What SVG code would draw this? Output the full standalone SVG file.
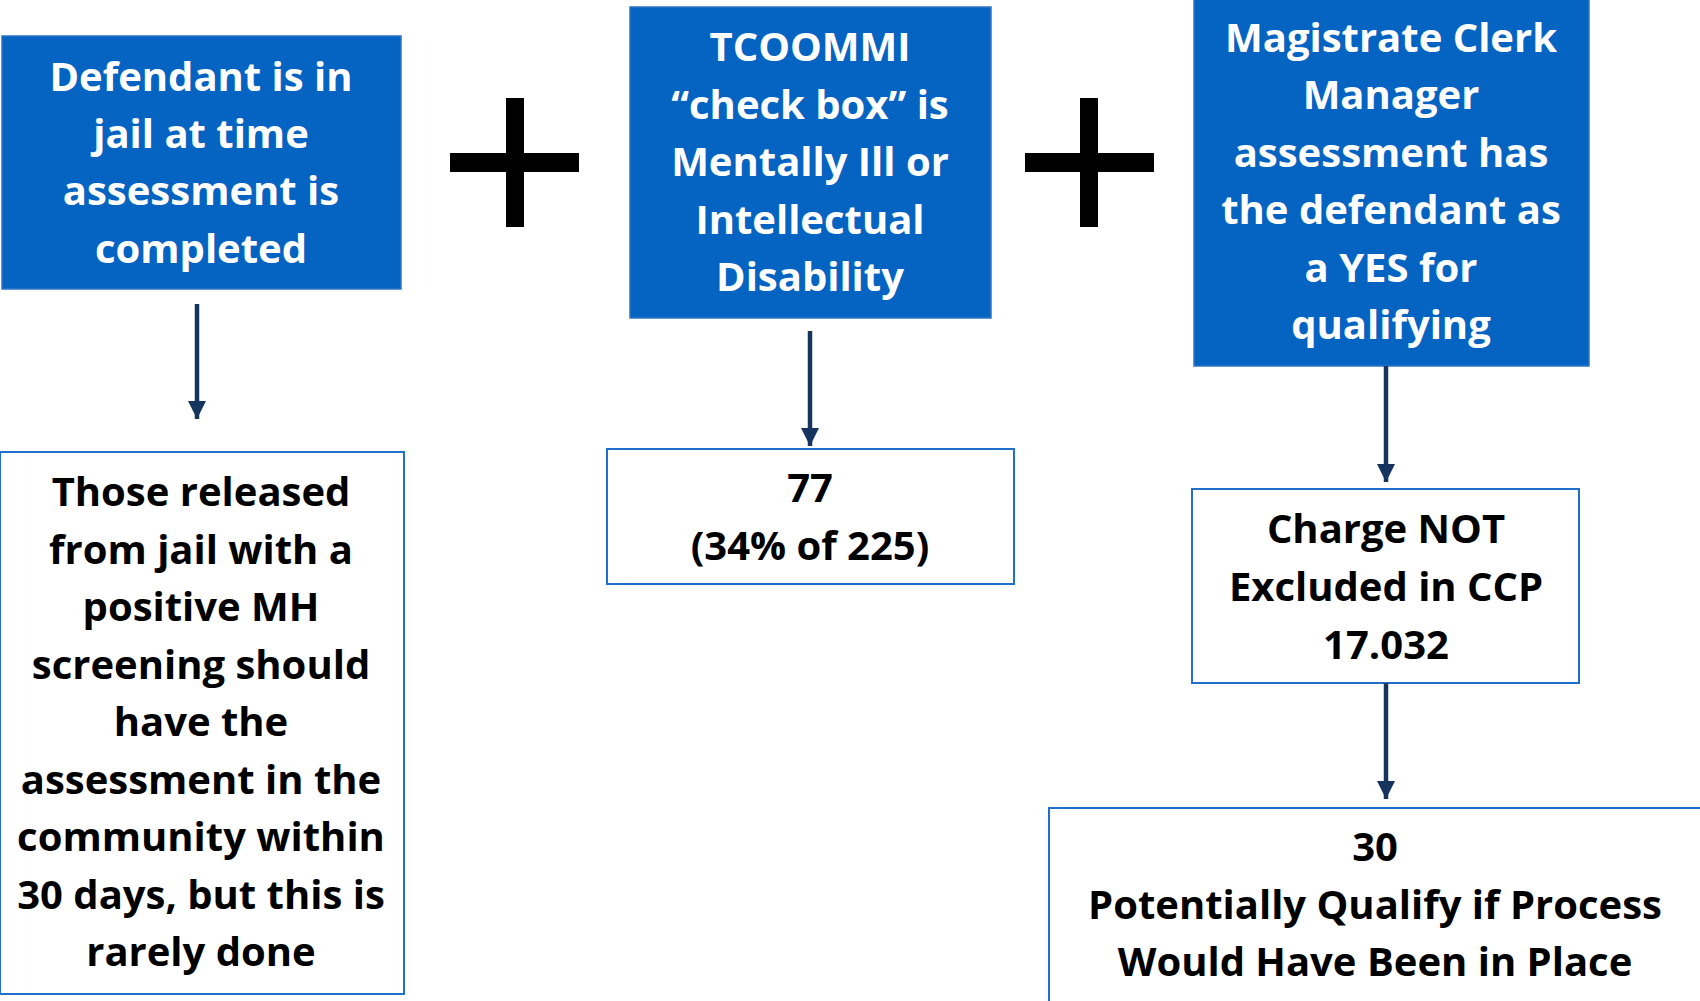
<svg xmlns="http://www.w3.org/2000/svg" width="1700" height="1001" viewBox="0 0 1700 1001">
  <style>
    .solid { fill: #0563C1; stroke: #2E74C8; stroke-width: 1.5; }
    .outline { fill: #FFFFFF; stroke: #1F6FCB; stroke-width: 2; }
    .t { font-family: "Open Sans", Lato, sans-serif; font-weight: bold; font-size: 40px; text-anchor: middle; }
    .tw { fill: #FFFFFF; }
    .tb { fill: #000000; }
    .plus { fill: #000000; }
    .conn { stroke: #15355E; stroke-width: 4.5; fill: none; marker-end: url(#head); }
  </style>
  <defs>
    <marker id="head" viewBox="0 0 10 10" refX="10" refY="5" markerWidth="4" markerHeight="4" orient="auto" markerUnits="strokeWidth">
      <path d="M0,0 L10,5 L0,10 Z" fill="#15355E"/>
    </marker>
  </defs>

  <rect width="1700" height="1001" fill="#FFFFFF"/>

  <!-- plus signs between the criteria -->
  <g id="plus-1">
    <rect class="plus" x="450" y="153" width="129" height="19"/>
    <rect class="plus" x="506" y="98" width="18" height="129"/>
  </g>
  <g id="plus-2">
    <rect class="plus" x="1025" y="153" width="129" height="19"/>
    <rect class="plus" x="1080" y="98" width="18" height="129"/>
  </g>

  <!-- criteria -->
  <g id="in-jail">
    <rect class="solid" x="2" y="36" width="399" height="253"/>
    <text class="t tw" x="201" y="91">Defendant is in</text>
    <text class="t tw" x="201" y="148">jail at time</text>
    <text class="t tw" x="201" y="205">assessment is</text>
    <text class="t tw" x="201" y="263">completed</text>
  </g>

  <g id="tcoommi">
    <rect class="solid" x="630" y="7" width="361" height="311"/>
    <text class="t tw" x="810" y="61">TCOOMMI</text>
    <text class="t tw" x="810" y="119">“check box” is</text>
    <text class="t tw" x="810" y="176">Mentally Ill or</text>
    <text class="t tw" x="810" y="234">Intellectual</text>
    <text class="t tw" x="810" y="291">Disability</text>
  </g>

  <g id="magistrate">
    <rect class="solid" x="1194" y="-2" width="395" height="368"/>
    <text class="t tw" x="1391" y="52">Magistrate Clerk</text>
    <text class="t tw" x="1391" y="109">Manager</text>
    <text class="t tw" x="1391" y="167">assessment has</text>
    <text class="t tw" x="1391" y="224">the defendant as</text>
    <text class="t tw" x="1391" y="282">a YES for</text>
    <text class="t tw" x="1391" y="339">qualifying</text>
  </g>

  <!-- outcomes -->
  <g id="released">
    <rect class="outline" x="0" y="452" width="404" height="542"/>
    <text class="t tb" x="201" y="506">Those released</text>
    <text class="t tb" x="201" y="564">from jail with a</text>
    <text class="t tb" x="201" y="621">positive MH</text>
    <text class="t tb" x="201" y="679">screening should</text>
    <text class="t tb" x="201" y="736">have the</text>
    <text class="t tb" x="201" y="794">assessment in the</text>
    <text class="t tb" x="201" y="851">community within</text>
    <text class="t tb" x="201" y="909">30 days, but this is</text>
    <text class="t tb" x="201" y="966">rarely done</text>
  </g>

  <g id="count-77">
    <rect class="outline" x="607" y="449" width="407" height="135"/>
    <text class="t tb" x="810" y="502">77</text>
    <text class="t tb" x="810" y="560">(34% of 225)</text>
  </g>

  <g id="charge">
    <rect class="outline" x="1192" y="489" width="387" height="194"/>
    <text class="t tb" x="1386" y="543">Charge NOT</text>
    <text class="t tb" x="1386" y="601">Excluded in CCP</text>
    <text class="t tb" x="1386" y="659">17.032</text>
  </g>

  <g id="count-30">
    <rect class="outline" x="1049" y="808" width="655" height="200"/>
    <text class="t tb" x="1375" y="861">30</text>
    <text class="t tb" x="1375" y="919">Potentially Qualify if Process</text>
    <text class="t tb" x="1375" y="976">Would Have Been in Place</text>
  </g>

  <!-- connectors -->
  <g id="connectors">
    <line class="conn" x1="197" y1="304" x2="197" y2="419"/>
    <line class="conn" x1="810" y1="331" x2="810" y2="446"/>
    <line class="conn" x1="1386" y1="366" x2="1386" y2="482"/>
    <line class="conn" x1="1386" y1="683" x2="1386" y2="799"/>
  </g>
</svg>
